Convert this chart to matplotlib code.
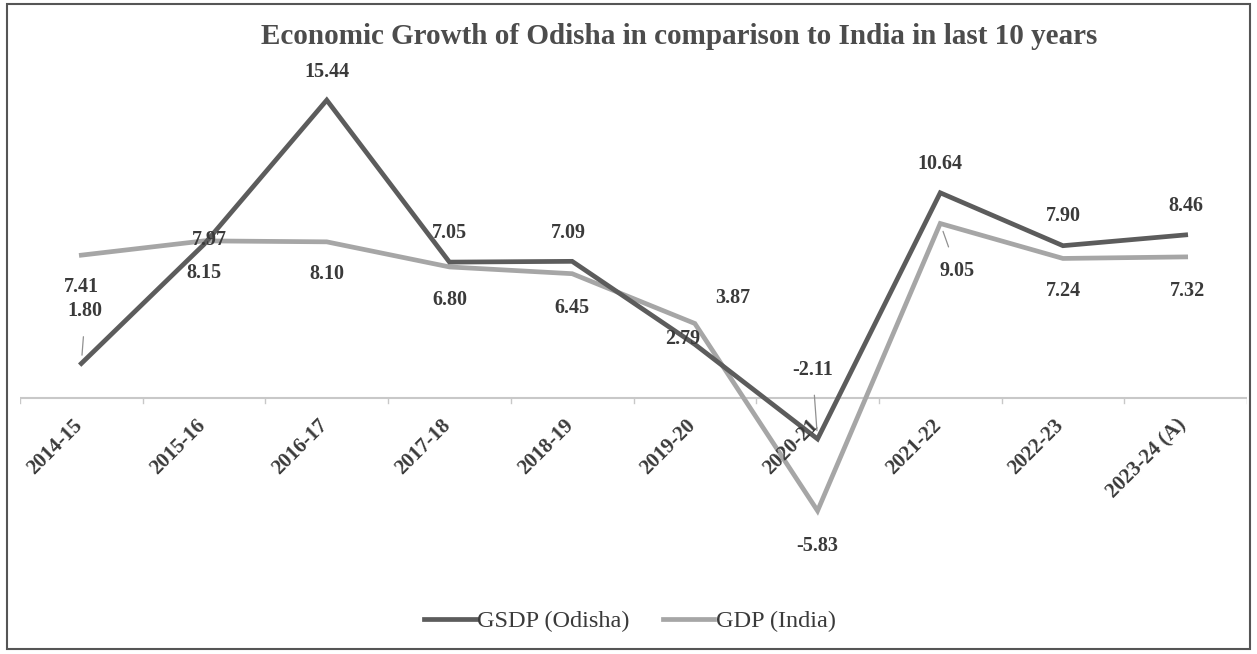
import matplotlib.pyplot as plt
from matplotlib.patches import Rectangle

years = ['2014-15', '2015-16', '2016-17', '2017-18', '2018-19',
         '2019-20', '2020-21', '2021-22', '2022-23', '2023-24 (A)']
gsdp_odisha = [1.80, 7.97, 15.44, 7.05, 7.09, 2.79, -2.11, 10.64, 7.90, 8.46]
gdp_india = [7.41, 8.15, 8.10, 6.80, 6.45, 3.87, -5.83, 9.05, 7.24, 7.32]

# label offsets in pixels (dx, dy), Excel-style placement
odisha_off = [(4, 52), (5, 4), (0, 28), (0, 29), (-4, 28), (-12, 5), (-5, 69), (0, 29), (0, 30), (0, 29)]
india_off = [(0, -32), (0, -32), (0, -32), (0, -33), (0, -34), (38, 26), (0, -35), (17, -48), (0, -33), (2, -34)]
leaders = {('o', 0), ('o', 6), ('i', 7)}

plt.rcParams['font.family'] = ['Liberation Serif', 'DejaVu Serif']
txt = '#3a3a3a'
c_od = '#5c5c5c'
c_in = '#a6a6a6'

fig = plt.figure(figsize=(12.57, 6.54), dpi=100)
ax = fig.add_axes([20 / 1257, 1 - 572 / 654, 1227 / 1257, 502 / 654])

x = list(range(len(years)))
ax.plot(x, gsdp_odisha, color=c_od, lw=3.4, label='GSDP (Odisha)', solid_joinstyle='miter', zorder=3)
ax.plot(x, gdp_india, color=c_in, lw=3.4, label='GDP (India)', solid_joinstyle='miter', zorder=2)

ax.axhline(0, color='#c8c8c8', lw=1.5, zorder=1)
ax.set_xlim(-0.5, len(years) - 0.5)
ax.set_ylim(-9, 17)

for s in ax.spines.values():
    s.set_visible(False)
ax.set_yticks([])
ax.set_xticks([])

# category labels under the zero line
for i, yr in enumerate(years):
    ax.annotate(yr, (i, 0), xytext=(-9, -17), textcoords='offset pixels',
                rotation=45, ha='right', va='top', rotation_mode='anchor',
                fontsize=15, fontweight='bold', color=txt)
for i in range(len(years) + 1):
    ax.plot([i - 0.5, i - 0.5], [0, -0.25], color='#c8c8c8', lw=1)

for key, vals, offs in (('o', gsdp_odisha, odisha_off), ('i', gdp_india, india_off)):
    for i, (v, (dx, dy)) in enumerate(zip(vals, offs)):
        ap = None
        if (key, i) in leaders:
            ap = dict(arrowstyle='-', color='#909090', lw=0.9, shrinkA=9, shrinkB=6)
        ax.annotate(f'{v:.2f}', (i, v), xytext=(dx, dy), textcoords='offset pixels',
                    ha='center', va='center', fontsize=14.5, fontweight='bold',
                    color=txt, arrowprops=ap, zorder=5)

fig.text(679 / 1257, 1 - 37 / 654, 'Economic Growth of Odisha in comparison to India in last 10 years',
         ha='center', va='center', fontsize=21, fontweight='bold', color='#4c4c4c')

fig.legend(loc='center', bbox_to_anchor=(630 / 1257, 1 - 621 / 654), ncol=2, frameon=False,
           fontsize=17.5, handlelength=2.1, handletextpad=0.05, columnspacing=1.4,
           labelcolor=txt)

fig.patches.append(Rectangle((7 / 1257, 5 / 654), 1243 / 1257, 645 / 654,
                             transform=fig.transFigure, fill=False, ec='#555555', lw=1.5))

fig.savefig('out.png', dpi=100)
